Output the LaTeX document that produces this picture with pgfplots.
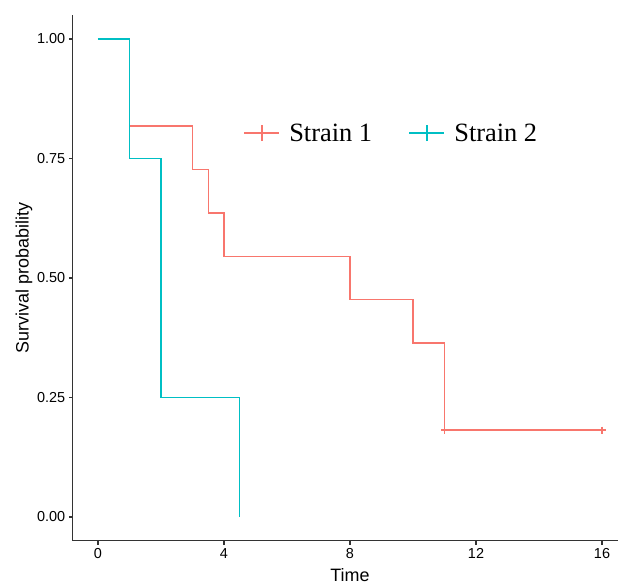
\documentclass[border=0pt]{standalone}
\usepackage{pgfplots}
\pgfplotsset{compat=1.18}
\usepackage{fontspec}
\setmainfont{Liberation Sans}
\newfontfamily\legfont{Liberation Serif}
\definecolor{strainA}{HTML}{F8766D}
\definecolor{strainB}{HTML}{00BFC4}

\begin{document}
\begin{tikzpicture}
% page = 618 x 586 px, 1px = 1bp
\path[use as bounding box] (-72.8bp,-45.1bp) rectangle (545.2bp,540.9bp);
\begin{axis}[
    at={(0,0)}, anchor=south west,
    scale only axis, width=554.4bp, height=525.8bp,
    xmin=-0.8, xmax=16.8, ymin=-0.05, ymax=1.05,
    axis x line*=bottom, axis y line*=left,
    axis line style={line width=1.1bp, black!80, -},
    xtick={0,4,8,12,16},
    ytick={0,0.25,0.5,0.75,1},
    yticklabel style={/pgf/number format/.cd, fixed, fixed zerofill, precision=2},
    /pgf/number format/assume math mode=true,
    tick align=outside, major tick length=4bp,
    tick style={line width=1.1bp, black!80},
    ticklabel style={font=\fontsize{14.5}{16}\selectfont},
    xlabel={Time}, ylabel={Survival probability},
    label style={font=\fontsize{18}{20}\selectfont},
    xlabel style={yshift=-3bp},
    ylabel style={yshift=-2bp},
    legend style={at={(axis cs:4.6,0.803)}, anchor=west, draw=none, fill=none,
        inner sep=0pt, font=\legfont\fontsize{26.5}{28}\selectfont,
        /tikz/every odd column/.append style={column sep=7bp},
        /tikz/every even column/.append style={column sep=34bp}},
    legend columns=2,
    legend image code/.code={
        \draw[#1, line width=2.2bp] (0bp,0bp) -- (35bp,0bp);
        \draw[#1, line width=2.2bp] (17.5bp,-8bp) -- (17.5bp,8bp);
    },
]

% Strain 1: KM steps, censored at 11 and 16
\addplot[const plot, color=strainA, line width=1.3bp,
    mark=+, mark size=3.5bp, mark indices={8,9}] coordinates {
    (0,1.000) (1,0.818) (3,0.727) (3.5,0.636) (4,0.545)
    (8,0.455) (10,0.364) (11,0.182) (16,0.182)
};
\addlegendentry{Strain 1}

% Strain 2
\addplot[const plot, color=strainB, line width=1.3bp] coordinates {
    (0,1.00) (1,0.75) (2,0.25) (4.5,0.00)
};
\addlegendentry{Strain 2}

\end{axis}
\end{tikzpicture}
\end{document}
